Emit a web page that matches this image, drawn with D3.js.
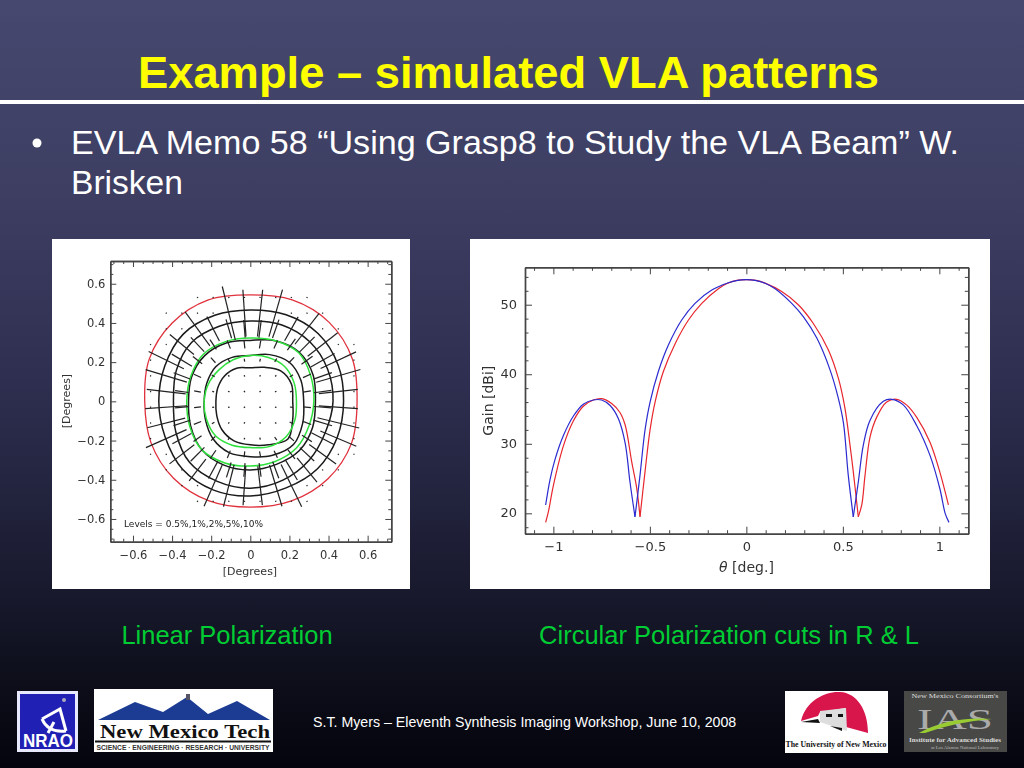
<!DOCTYPE html>
<html><head><meta charset="utf-8">
<script src="https://cdn.jsdelivr.net/npm/d3@7"></script>
<style>html,body{margin:0;padding:0;background:#000;overflow:hidden}svg{display:block}</style>
</head><body><svg id="s" width="1024" height="768"></svg>
<script>
// ---------- slide text ----------
const titleText = "Example – simulated VLA patterns";
const bulletLines = ["EVLA Memo 58 “Using Grasp8 to Study the VLA Beam” W.", "Brisken"];
const captionLeft = "Linear Polarization";
const captionRight = "Circular Polarization cuts in R & L";
const footerText = "S.T. Myers – Eleventh Synthesis Imaging Workshop, June 10, 2008";

// ---------- right chart: gain cuts ----------
const gainTicksX = [-1, -0.5, 0, 0.5, 1];
const gainMinorX = [-1.1,-0.9,-0.8,-0.7,-0.6,-0.4,-0.3,-0.2,-0.1,0.1,0.2,0.3,0.4,0.6,0.7,0.8,0.9,1.1];
const gainTicksY = [20, 30, 40, 50];
const gainMinorY = [18,22,24,26,28,32,34,36,38,42,44,46,48,52,54];
const blueTheta = [-1.04,-1.017,-0.991,-0.948,-0.896,-0.845,-0.793,-0.75,-0.706,-0.663,-0.628,-0.603,-0.577];
const blueGain  = [21.2,24.9,27.8,31.2,34,35.7,36.3,36.3,35.5,33.6,30.1,24.5,19.5];
const blueMainTheta = [-0.577,-0.551,-0.525,-0.499,-0.456,-0.404,-0.335,-0.266,-0.179,-0.093,-0.045,0,0.045,0.1,0.149,0.235,0.295,0.365,0.434,0.477,0.503,0.528,0.554];
const blueMainGain  = [19.5,25.5,32,36,40.4,44.2,47.8,50.2,52.1,53.15,53.5,53.6,53.5,53.05,52.3,50.2,48.3,45.2,40.6,36.5,33,25.5,19.5];
const blueRightTheta = [0.554,0.58,0.606,0.641,0.71,0.753,0.813,0.883,0.952,1.003,1.03,1.05];
const blueRightGain  = [19.5,24.5,29.8,33.4,36.1,36.4,35.6,32.6,28.3,23.5,20,18.7];
const redTheta = [-1.04,-1.026,-1,-0.948,-0.896,-0.845,-0.793,-0.75,-0.698,-0.655,-0.628,-0.594,-0.568,-0.551];
const redGain  = [18.7,20.2,24,29.7,33.3,35.4,36.3,36.5,35.8,34.5,32.7,27.4,23.6,19.5];
const redMainTheta = [-0.551,-0.525,-0.499,-0.473,-0.43,-0.369,-0.3,-0.231,-0.145,-0.1,-0.05,0,0.05,0.097,0.183,0.269,0.347,0.425,0.477,0.511,0.537,0.554,0.58];
const redMainGain  = [19.5,26,32,36,40.4,44.4,47.8,50.2,52.3,53.05,53.5,53.6,53.5,53.1,51.9,50,47.3,43.5,39.4,35.1,29.8,26,19.5];
const redRightTheta = [0.58,0.598,0.615,0.641,0.675,0.727,0.779,0.83,0.883,0.952,1.003,1.047];
const redRightGain  = [19.5,21.2,25.5,31,33.8,36,36.4,35.6,33.8,30.2,25.9,21.2];

// ---------- left chart: contours ----------
const mapTicks = [-0.6,-0.4,-0.2,0,0.2,0.4,0.6];
const mapMinor = [-0.7,-0.65,-0.55,-0.5,-0.45,-0.35,-0.3,-0.25,-0.15,-0.1,-0.05,0.05,0.1,0.15,0.25,0.3,0.35,0.45,0.5,0.55,0.65,0.7];
const contourAngles = [0,22.5,45,67.5,90,112.5,135,157.5,180,202.5,225,247.5,270,292.5,315,337.5];
const contourRed    = [.546,.565,.57,.56,.543,.56,.565,.56,.54,.55,.555,.55,.54,.55,.56,.56];
const contourBlack1 = [.477,.486,.49,.478,.466,.475,.485,.473,.468,.472,.49,.49,.483,.478,.486,.481];
const contourBlack2 = [.423,.428,.43,.422,.41,.415,.425,.41,.393,.412,.44,.442,.443,.435,.425,.415];
const contourBlack3 = [.333,.348,.354,.335,.311,.322,.33,.325,.316,.33,.35,.352,.35,.348,.355,.345];
const contourBlack4 = [.273,.28,.282,.258,.234,.243,.25,.241,.236,.248,.27,.283,.282,.298,.312,.29];
const contourBlack5 = [.217,.228,.22,.188,.171,.183,.185,.18,.176,.186,.205,.218,.222,.24,.272,.235];
const contourGreen1 = [.325,.335,.35,.335,.323,.33,.34,.33,.325,.335,.35,.34,.33,.332,.335,.325];
const contourGreen2 = [.236,.243,.25,.242,.234,.23,.227,.232,.236,.242,.25,.242,.236,.25,.257,.247];
const levelsLabel = "Levels = 0.5%,1%,2%,5%,10%";

// polarisation vectors: one length per grid node (0 = no mark)
const gridX = [-.51,-.43,-.35,-.27,-.19,-.11,-.03,.05,.13,.21,.29,.37,.45,.53];
const gridY = [.53,.45,.37,.29,.21,.13,.05,-.03,-.11,-.19,-.27,-.35,-.43,-.51];
const gridLen = [
 [0,0,0,.006,.006,.006,.006,.006,.006,.006,.006,0,0,0],
 [0,.006,.006,.006,.006,.28,.24,.24,.25,.006,.006,.006,0,0],
 [0,.006,.006,.215,.14,.1,.09,.09,.1,.14,.2,.006,.006,0],
 [.006,.006,.16,.1,.06,.045,.04,.04,.045,.07,.11,.195,.006,.006],
 [.006,.2,.12,.06,.035,.02,.015,.015,.02,.04,.07,.14,.2,.006],
 [.006,.22,.09,.04,.018,.008,.008,.008,.008,.02,.045,.1,.235,.006],
 [.006,.2,.07,.035,.01,.008,.008,.008,.008,.015,.04,.09,.2,.006],
 [.006,.215,.07,.035,.01,.008,.008,.008,.008,.015,.04,.09,.2,.006],
 [.006,.2,.09,.04,.015,.008,.008,.008,.008,.02,.045,.1,.22,.006],
 [.006,.227,.11,.05,.03,.015,.008,.01,.02,.035,.06,.13,.2,.006],
 [.006,.006,.16,.1,.05,.04,.03,.03,.04,.06,.1,.17,.006,.006],
 [0,.006,.006,.14,.1,.08,.07,.07,.09,.12,.16,.006,.006,0],
 [0,0,.006,.006,.23,.22,.2,.2,.22,.24,.006,.006,0,0],
 [0,0,0,.006,.006,.006,.006,.006,.006,.006,.006,0,0,0]
];

// ---------- drawing ----------
const svg = d3.select("#s");
const defs = svg.append("defs");
const bg = defs.append("linearGradient").attr("id","bg").attr("x1",0).attr("y1",0).attr("x2",0).attr("y2",1);
[[0,"#46486f"],[.25,"#3d3e62"],[.5,"#2e2f50"],[.75,"#1a1b30"],[.9,"#0c0d18"],[1,"#04040e"]].forEach(d=>bg.append("stop").attr("offset",d[0]).attr("stop-color",d[1]));
const blur = defs.append("filter").attr("id","soft").attr("x","-5%").attr("y","-5%").attr("width","110%").attr("height","110%");
blur.append("feGaussianBlur").attr("stdDeviation",0.35);
svg.append("rect").attr("width",1024).attr("height",768).attr("fill","url(#bg)");

const SANS = "'Liberation Sans',Arial,sans-serif", SERIF="'Liberation Serif',serif", PLOT="'DejaVu Sans',sans-serif";
function txt(p,x,y,s,o={}){const t=p.append("text").attr("x",x).attr("y",y).text(s)
  .attr("font-family",o.f||SANS).attr("font-size",o.s).attr("fill",o.c||"#fff").attr("text-anchor",o.a||"start");
  if(o.b)t.attr("font-weight","bold"); if(o.i)t.attr("font-style","italic"); if(o.len)t.attr("textLength",o.len).attr("lengthAdjust","spacingAndGlyphs"); if(o.r!=null)t.attr("transform",`rotate(${o.r} ${x} ${y})`); return t;}

txt(svg,508.5,88,titleText,{s:45,b:1,c:"#ffff00",a:"middle",len:741});
svg.append("rect").attr("x",0).attr("y",100).attr("width",1024).attr("height",4).attr("fill","#fff");
svg.append("circle").attr("cx",37).attr("cy",143).attr("r",4.5).attr("fill","#fff");
txt(svg,71,154,bulletLines[0],{s:34,len:888});
txt(svg,71,194,bulletLines[1],{s:33.6});
txt(svg,227,644,captionLeft,{s:25.5,c:"#00cc33",a:"middle"});
txt(svg,729,644,captionRight,{s:25.5,c:"#00cc33",a:"middle"});
txt(svg,313,727,footerText,{s:14.2});

svg.append("rect").attr("x",52).attr("y",239).attr("width",358).attr("height",350).attr("fill","#fff");
svg.append("rect").attr("x",470).attr("y",239).attr("width",520).attr("height",350).attr("fill","#fff");

const fmt = d => (d<0?"−":"")+Math.abs(d);
function frame(g,x,y,tx,mx,ty,my,maj,min,fs,lx){
  const [l,r]=x.range(), [b,t]=y.range();
  const ax=(gen,scale,vals,size,tr,fmtr)=>{const a=g.append("g").attr("transform",tr)
      .call(gen(scale).tickValues(vals).tickSize(-size).tickSizeOuter(0).tickPadding(0).tickFormat(fmtr));
    a.select(".domain").attr("stroke","#444").attr("stroke-width",1.4);
    a.selectAll(".tick line").attr("stroke","#444").attr("stroke-width",1);
    return a;};
  const none=()=>"";
  const bm=ax(d3.axisBottom,x,tx,maj,`translate(0,${b})`,fmt);
  bm.selectAll("text").attr("dy",0).attr("y",14).attr("font-family",PLOT).attr("font-size",fs).attr("fill","#333").attr("dominant-baseline","middle");
  ax(d3.axisBottom,x,mx,min,`translate(0,${b})`,none);
  ax(d3.axisTop,x,tx,maj,`translate(0,${t})`,none);
  ax(d3.axisTop,x,mx,min,`translate(0,${t})`,none);
  const lm=ax(d3.axisLeft,y,ty,maj,`translate(${l},0)`,fmt);
  lm.selectAll("text").attr("dy",0).attr("x",lx).attr("font-family",PLOT).attr("font-size",fs).attr("fill","#333").attr("dominant-baseline","middle");
  ax(d3.axisLeft,y,my,min,`translate(${l},0)`,none);
  ax(d3.axisRight,y,ty,maj,`translate(${r},0)`,none);
  ax(d3.axisRight,y,my,min,`translate(${r},0)`,none);
}

// left map
const gL = svg.append("g").attr("filter","url(#soft)");
const mx = d3.scaleLinear().domain([-0.716,0.721]).range([110.3,391.3]);
const my = d3.scaleLinear().domain([-0.716,0.716]).range([541.7,261]);
const radial = (r,i)=>[r*Math.cos(contourAngles[i]*Math.PI/180), r*Math.sin(contourAngles[i]*Math.PI/180)];
const contourLine = d3.line().x(d=>mx(d[0])).y(d=>my(d[1])).curve(d3.curveCatmullRomClosed.alpha(0.5));
[[contourRed,"#e0303c",1.3],[contourBlack1,"#1a1a1a",1.5],[contourBlack2,"#1a1a1a",1.5],[contourBlack3,"#1a1a1a",1.5],[contourBlack4,"#1a1a1a",1.5],[contourBlack5,"#1a1a1a",1.5],[contourGreen1,"#2fe03c",1.5],[contourGreen2,"#2fe03c",1.5]]
 .forEach(c=>gL.append("path").attr("d",contourLine(c[0].map(radial))).attr("fill","none").attr("stroke",c[1]).attr("stroke-width",c[2]));
const vectors = [];
gridY.forEach((yy,j)=>gridX.forEach((xx,i)=>{ if(gridLen[j][i]>0) vectors.push({x:xx,y:yy,l:gridLen[j][i]}); }));
gL.append("g").selectAll("line").data(vectors).join("line")
  .each(function(d){const r=Math.hypot(d.x,d.y)||1, ux=d.x/r, uy=d.y/r, h=d.l/2;
    d3.select(this).attr("x1",mx(d.x-ux*h)).attr("y1",my(d.y-uy*h)).attr("x2",mx(d.x+ux*h)).attr("y2",my(d.y+uy*h));})
  .attr("stroke","#222").attr("stroke-width",d=>d.l<0.012?1.3:1.2);
frame(gL,mx,my,mapTicks,mapMinor,mapTicks,mapMinor,6,3,11.5,-5);
txt(gL,250,575,"[Degrees]",{f:PLOT,s:11,c:"#333",a:"middle"});
txt(gL,70,401,"[Degrees]",{f:PLOT,s:11,c:"#333",a:"middle",r:-90});
txt(gL,124,526.5,levelsLabel,{f:PLOT,s:9.5,c:"#222",len:139});

// right gain plot
const gR = svg.append("g").attr("filter","url(#soft)");
const gx = d3.scaleLinear().domain([-1.147,1.15]).range([525,968.3]);
const gy = d3.scaleLinear().domain([17.07,55.38]).range([533.7,267.3]);
const gainLine = d3.line().x(d=>gx(d[0])).y(d=>gy(d[1])).curve(d3.curveCatmullRom.alpha(0.5));
[[redTheta,redGain],[redMainTheta,redMainGain],[redRightTheta,redRightGain]].forEach(s=>
  gR.append("path").attr("d",gainLine(d3.zip(s[0],s[1]))).attr("fill","none").attr("stroke","#e8262e").attr("stroke-width",1.2));
[[blueTheta,blueGain],[blueMainTheta,blueMainGain],[blueRightTheta,blueRightGain]].forEach(s=>
  gR.append("path").attr("d",gainLine(d3.zip(s[0],s[1]))).attr("fill","none").attr("stroke","#2a2ad0").attr("stroke-width",1.2));
frame(gR,gx,gy,gainTicksX,gainMinorX,gainTicksY,gainMinorY,7,3.5,13,-8);
const gt = txt(gR,746.5,572,"",{f:PLOT,s:14,c:"#333",a:"middle"});
gt.append("tspan").attr("font-style","italic").text("θ");
gt.append("tspan").text(" [deg.]");
txt(gR,493,400.7,"Gain [dBi]",{f:PLOT,s:14,c:"#333",a:"middle",r:-90});

// logos
const L = svg.append("g");
// NRAO
L.append("rect").attr("x",17).attr("y",691).attr("width",61).attr("height",61).attr("fill","#e8e8ff");
L.append("rect").attr("x",20).attr("y",694).attr("width",55).attr("height",55).attr("fill","#2020b4");
L.append("circle").attr("cx",64).attr("cy",700).attr("r",2).attr("fill","#aab");
L.append("path").attr("d","M42 719 L60 709 L66 731 M42 719 Q48 733 66 731 M54 722 L48 733").attr("fill","none").attr("stroke","#fff").attr("stroke-width",3);
txt(L,48,747,"NRAO",{s:19,b:1,a:"middle",len:50});
// New Mexico Tech
L.append("rect").attr("x",94).attr("y",689).attr("width",179).attr("height",63).attr("fill","#fff");
L.append("path").attr("d","M98 720 L135 702 L163 712 L187 697 L208 714 L237 701 L270 720 Z").attr("fill","#1c3c94");
L.append("rect").attr("x",186).attr("y",694).attr("width",4).attr("height",6).attr("fill","#556");
txt(L,185,738,"New Mexico Tech",{f:SERIF,s:19,b:1,c:"#111",a:"middle",len:170});
L.append("rect").attr("x",95).attr("y",740.5).attr("width",176).attr("height",2).attr("fill","#111");
txt(L,183,749.5,"SCIENCE · ENGINEERING · RESEARCH · UNIVERSITY",{s:6.5,b:1,c:"#333",a:"middle",len:173});
// UNM
L.append("rect").attr("x",785).attr("y",691).attr("width",103).attr("height",62).attr("fill","#fff");
L.append("path").attr("d","M801 721 C806 700 826 691 840 692 C857 693 868 710 868 733 L846 727 L846 708 L820 712 L818 716 Z").attr("fill","#d8164c");
L.append("path").attr("d","M820 711 L846 708 L847 731 L820 722 Z").attr("fill","#ddd");
L.append("path").attr("d","M801 722 L818 719 L820 723 Z M830 726 L842 728 L842 731 Z M826 714 h6 v3 h-6 Z M838 714 h5 v3 h-5 Z").attr("fill","#111");
txt(L,836,747,"The University of New Mexico",{f:SERIF,s:8,b:1,c:"#111",a:"middle",len:101});
// IAS
L.append("rect").attr("x",904).attr("y",691).attr("width",103).attr("height",61).attr("fill","#484846");
txt(L,955,697.5,"New Mexico Consortium's",{f:SERIF,s:6,c:"#ddd",a:"middle",len:87});
txt(L,955,729,"IAS",{f:SERIF,s:30,c:"#aaa",a:"middle",len:76});
L.append("path").attr("d","M919 733 Q950 716 992 719 Q955 722 925 733 Z").attr("fill","#9c3");
txt(L,955,741.5,"Institute for Advanced Studies",{f:SERIF,s:6,b:1,c:"#ddd",a:"middle",len:92});
txt(L,965,748.5,"at Los Alamos National Laboratory",{f:SERIF,s:4,c:"#bbb",a:"middle",len:68});
</script></body></html>
